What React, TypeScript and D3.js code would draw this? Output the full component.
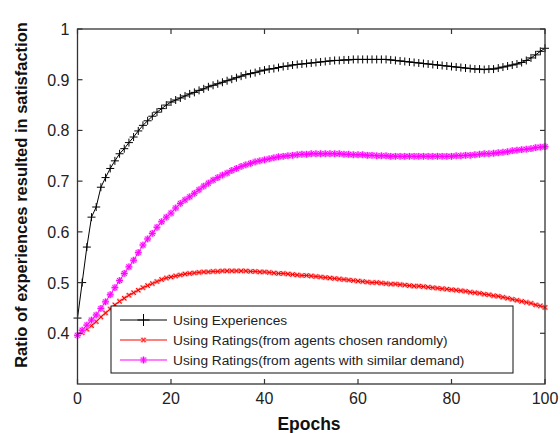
import React from 'react';
import * as d3 from 'd3';

const epochs = d3.range(0, 101);

const usingExperiences = [
  0.430, 0.500, 0.570, 0.629, 0.649, 0.688, 0.707, 0.725, 0.740, 0.754,
  0.764, 0.776, 0.787, 0.799, 0.810, 0.819, 0.828, 0.836, 0.843, 0.850,
  0.856, 0.860, 0.864, 0.868, 0.872, 0.875, 0.879, 0.882, 0.886, 0.889,
  0.892, 0.895, 0.898, 0.901, 0.904, 0.907, 0.910, 0.912, 0.914, 0.917,
  0.919, 0.921, 0.922, 0.924, 0.926, 0.927, 0.929, 0.930, 0.931, 0.932,
  0.933, 0.934, 0.935, 0.936, 0.937, 0.938, 0.938, 0.939, 0.939, 0.940,
  0.940, 0.940, 0.940, 0.940, 0.940, 0.940, 0.940, 0.939, 0.938, 0.937,
  0.936, 0.935, 0.934, 0.933, 0.932, 0.931, 0.930, 0.929, 0.928, 0.927,
  0.926, 0.925, 0.924, 0.923, 0.922, 0.921, 0.921, 0.920, 0.921, 0.921,
  0.923, 0.925, 0.927, 0.929, 0.931, 0.934, 0.938, 0.943, 0.949, 0.956,
  0.962,
];

const ratingsRandom = [
  0.396, 0.401, 0.408, 0.415, 0.423, 0.432, 0.440, 0.448, 0.456, 0.463,
  0.469, 0.475, 0.480, 0.485, 0.490, 0.494, 0.498, 0.502, 0.506, 0.509,
  0.511, 0.513, 0.515, 0.517, 0.518, 0.519, 0.520, 0.521, 0.521, 0.522,
  0.522, 0.523, 0.523, 0.523, 0.523, 0.523, 0.523, 0.522, 0.522, 0.521,
  0.521, 0.520, 0.519, 0.518, 0.518, 0.517, 0.516, 0.515, 0.514, 0.514,
  0.513, 0.512, 0.511, 0.510, 0.509, 0.508, 0.507, 0.506, 0.505, 0.504,
  0.503, 0.502, 0.501, 0.500, 0.500, 0.499, 0.498, 0.497, 0.497, 0.496,
  0.495, 0.494, 0.493, 0.493, 0.492, 0.491, 0.490, 0.489, 0.488, 0.487,
  0.486, 0.485, 0.484, 0.483, 0.481, 0.480, 0.479, 0.477, 0.476, 0.474,
  0.473, 0.471, 0.469, 0.467, 0.465, 0.463, 0.461, 0.459, 0.456, 0.454,
  0.451,
];

const ratingsSimilar = [
  0.396, 0.406, 0.416, 0.426, 0.436, 0.449, 0.462, 0.476, 0.490, 0.504,
  0.518, 0.531, 0.544, 0.559, 0.574, 0.586, 0.597, 0.609, 0.620, 0.629,
  0.637, 0.647, 0.656, 0.663, 0.669, 0.676, 0.683, 0.690, 0.696, 0.702,
  0.707, 0.712, 0.716, 0.721, 0.725, 0.729, 0.732, 0.735, 0.738, 0.740,
  0.742, 0.744, 0.746, 0.748, 0.749, 0.750, 0.751, 0.752, 0.753, 0.753,
  0.754, 0.754, 0.754, 0.754, 0.754, 0.754, 0.754, 0.753, 0.753, 0.752,
  0.752, 0.752, 0.751, 0.751, 0.750, 0.750, 0.750, 0.749, 0.749, 0.749,
  0.749, 0.749, 0.749, 0.749, 0.749, 0.749, 0.749, 0.749, 0.749, 0.749,
  0.749, 0.750, 0.750, 0.751, 0.751, 0.752, 0.753, 0.754, 0.754, 0.755,
  0.756, 0.757, 0.758, 0.760, 0.761, 0.762, 0.763, 0.764, 0.766, 0.767,
  0.768,
];

const xTicks = [0, 20, 40, 60, 80, 100];
const yTicks = [0.4, 0.5, 0.6, 0.7, 0.8, 0.9, 1];
const legendLabels = [
  'Using Experiences',
  'Using Ratings(from agents chosen randomly)',
  'Using Ratings(from agents with similar demand)',
];

const W = 560;
const H = 433;
const left = 77.5;
const right = 545;
const top = 29;
const bottom = 384;
const font = 'Liberation Sans, Arial, Helvetica, sans-serif';

type Kind = 'plus' | 'cross' | 'star';

// little marker paths centered on 0,0
const markerPath = (kind: Kind, r: number) => {
  const plus = `M${-r},0H${r}M0,${-r}V${r}`;
  const c = r * 0.72;
  const cross = `M${-c},${-c}L${c},${c}M${-c},${c}L${c},${-c}`;
  if (kind === 'plus') return plus;
  if (kind === 'cross') return cross;
  return plus + cross;
};

const seriesDefs = [
  { values: usingExperiences, color: '#000000', halo: null, kind: 'plus' as Kind, r: 4 },
  { values: ratingsRandom, color: '#ff0000', halo: '#ff9a9a', kind: 'cross' as Kind, r: 3 },
  { values: ratingsSimilar, color: '#ff00ff', halo: '#ff9cff', kind: 'star' as Kind, r: 3.4 },
];

export default function App() {
  const x = d3.scaleLinear().domain([0, 100]).range([left, right]);
  const y = d3.scaleLinear().domain([0.3, 1]).range([bottom, top]);

  const line = d3
    .line<number>()
    .x((_, i) => x(epochs[i]))
    .y((d) => y(d));

  const legendX = 111;
  const legendY = 306;
  const legendW = 402;
  const legendH = 67;

  return (
    <svg
      width={W}
      height={H}
      style={{ position: 'absolute', left: 0, top: 0, background: '#fff' }}
      fontFamily={font}
    >
      <rect x={0} y={0} width={W} height={H} fill="#fff" />

      {/* series */}
      {seriesDefs.map((s, si) => (
        <g key={si}>
          {s.halo && (
            <g stroke={s.halo} strokeWidth={2.4} fill="none">
              {s.values.map((v, i) => (
                <path
                  key={i}
                  transform={`translate(${x(epochs[i])},${y(v)})`}
                  d={markerPath(s.kind, s.r)}
                />
              ))}
            </g>
          )}
          <path d={line(s.values) || ''} fill="none" stroke={s.color} strokeWidth={1} />
          <g stroke={s.color} strokeWidth={1} fill="none">
            {s.values.map((v, i) => (
              <path
                key={i}
                transform={`translate(${x(epochs[i])},${y(v)})`}
                d={markerPath(s.kind, s.r)}
              />
            ))}
          </g>
        </g>
      ))}

      {/* frame and inward ticks */}
      <rect
        x={left}
        y={top}
        width={right - left}
        height={bottom - top}
        fill="none"
        stroke="#333"
        strokeWidth={1.3}
      />
      {xTicks.map((t) => (
        <g key={`x${t}`} stroke="#333" strokeWidth={1.2}>
          <line x1={x(t)} x2={x(t)} y1={bottom} y2={bottom - 5} />
          <line x1={x(t)} x2={x(t)} y1={top} y2={top + 5} />
        </g>
      ))}
      {yTicks.map((t) => (
        <g key={`y${t}`} stroke="#333" strokeWidth={1.2}>
          <line x1={left} x2={left + 5} y1={y(t)} y2={y(t)} />
          <line x1={right} x2={right - 5} y1={y(t)} y2={y(t)} />
        </g>
      ))}

      {/* tick labels */}
      {xTicks.map((t) => (
        <text
          key={`xl${t}`}
          x={x(t)}
          y={bottom + 20}
          textAnchor="middle"
          fontSize={16}
          fill="#222"
        >
          {t}
        </text>
      ))}
      {yTicks.map((t) => (
        <text
          key={`yl${t}`}
          x={left - 8}
          y={y(t) + 6}
          textAnchor="end"
          fontSize={16}
          fill="#222"
        >
          {d3.format('~g')(t)}
        </text>
      ))}

      {/* axis titles */}
      <text
        x={309}
        y={430}
        textAnchor="middle"
        fontSize={17.5}
        fontWeight="bold"
        fill="#111"
      >
        Epochs
      </text>
      <text
        transform={`translate(27,${(8 + 382) / 2}) rotate(-90)`}
        textAnchor="middle"
        fontSize={16.5}
        fontWeight="bold"
        fill="#111"
      >
        Ratio of experiences resulted in satisfaction
      </text>

      {/* legend */}
      <rect
        x={legendX}
        y={legendY}
        width={legendW}
        height={legendH}
        fill="#fff"
        stroke="#111"
        strokeWidth={1}
      />
      {seriesDefs.map((s, i) => {
        const ly = legendY + 14 + i * 20;
        return (
          <g key={`lg${i}`}>
            <line x1={120} x2={167} y1={ly} y2={ly} stroke={s.color} strokeWidth={1} />
            {s.halo && (
              <path
                transform={`translate(143.5,${ly})`}
                d={markerPath(s.kind, s.r)}
                stroke={s.halo}
                strokeWidth={2.4}
                fill="none"
              />
            )}
            <path
              transform={`translate(143.5,${ly})`}
              d={markerPath(s.kind, s.kind === 'plus' ? 6 : s.r)}
              stroke={s.color}
              strokeWidth={1}
              fill="none"
            />
            <text x={173} y={ly + 4.8} fontSize={13.7} fill="#222">
              {legendLabels[i]}
            </text>
          </g>
        );
      })}
    </svg>
  );
}
